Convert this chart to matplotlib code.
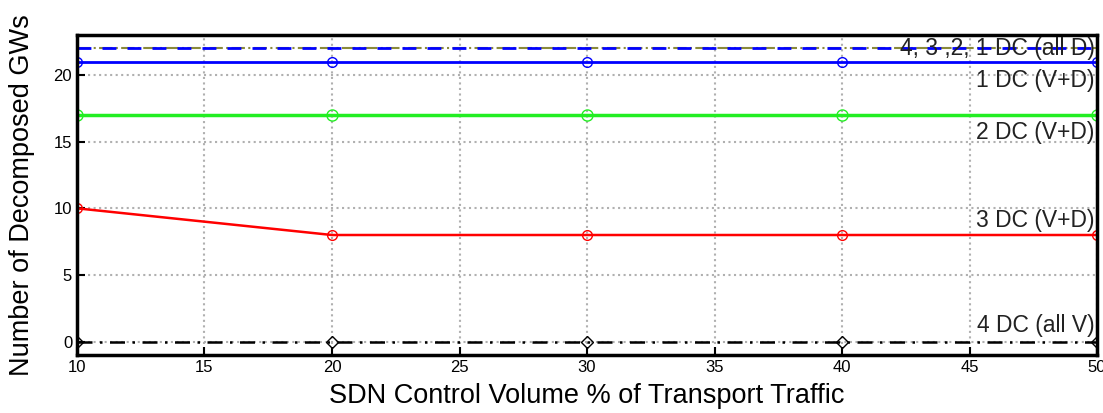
import matplotlib
matplotlib.use("Agg")
import matplotlib.pyplot as plt

# data
sdn_volume = [10, 20, 30, 40, 50]
all_d = [22, 22, 22, 22, 22]
dc1_vd = [21, 21, 21, 21, 21]
dc2_vd = [17, 17, 17, 17, 17]
dc3_vd = [10, 8, 8, 8, 8]
dc4_v = [0, 0, 0, 0, 0]

labels = ['4, 3 ,2, 1 DC (all D)', '1 DC (V+D)', '2 DC (V+D)',
          '3 DC (V+D)', '4 DC (all V)']
label_y = [22.0, 19.6, 15.65, 9.1, 1.25]

plt.rcParams['font.family'] = ['Liberation Sans', 'DejaVu Sans']

fig = plt.figure(figsize=(11.03, 4.13), dpi=100)
ax = fig.add_axes([0.0698, 0.1404, 0.9248, 0.7749])

ax.plot(sdn_volume, all_d, color='#8a8a3a', linestyle='-.', linewidth=1.5)
ax.plot(sdn_volume, all_d, color='blue', linestyle='--', linewidth=2,
        dashes=(5, 4))
ax.plot(sdn_volume, dc1_vd, color='blue', linewidth=2, marker='o',
        markersize=7, markerfacecolor='none')
ax.plot(sdn_volume, dc2_vd, color='#22ee22', linewidth=2.5, marker='o',
        markersize=8, markerfacecolor='none')
ax.plot(sdn_volume, dc3_vd, color='red', linewidth=1.8, marker='o',
        markersize=7, markerfacecolor='none')
ax.plot(sdn_volume, dc4_v, color='black', linestyle=(0, (6, 3, 1, 3)),
        linewidth=1.8, marker='D', markersize=6, markerfacecolor='none')

for txt, yy in zip(labels, label_y):
    ax.text(49.9, yy, txt, ha='right', va='center', fontsize=16.5, color='#222222')

ax.set_xlim(10, 50)
ax.set_ylim(-1, 23)
ax.set_xticks(range(10, 51, 5))
ax.set_yticks([0, 5, 10, 15, 20])
ax.grid(True, linestyle=':', color='#b0b0b0', linewidth=1.5)
ax.tick_params(direction='in', labelsize=12, length=6, width=1.5)
for s in ax.spines.values():
    s.set_linewidth(2.5)

ax.set_xlabel('SDN Control Volume % of Transport Traffic', fontsize=19.5, labelpad=6)
ax.set_ylabel('Number of Decomposed GWs', fontsize=19.5, labelpad=13)

fig.savefig('out.png', dpi=100)
